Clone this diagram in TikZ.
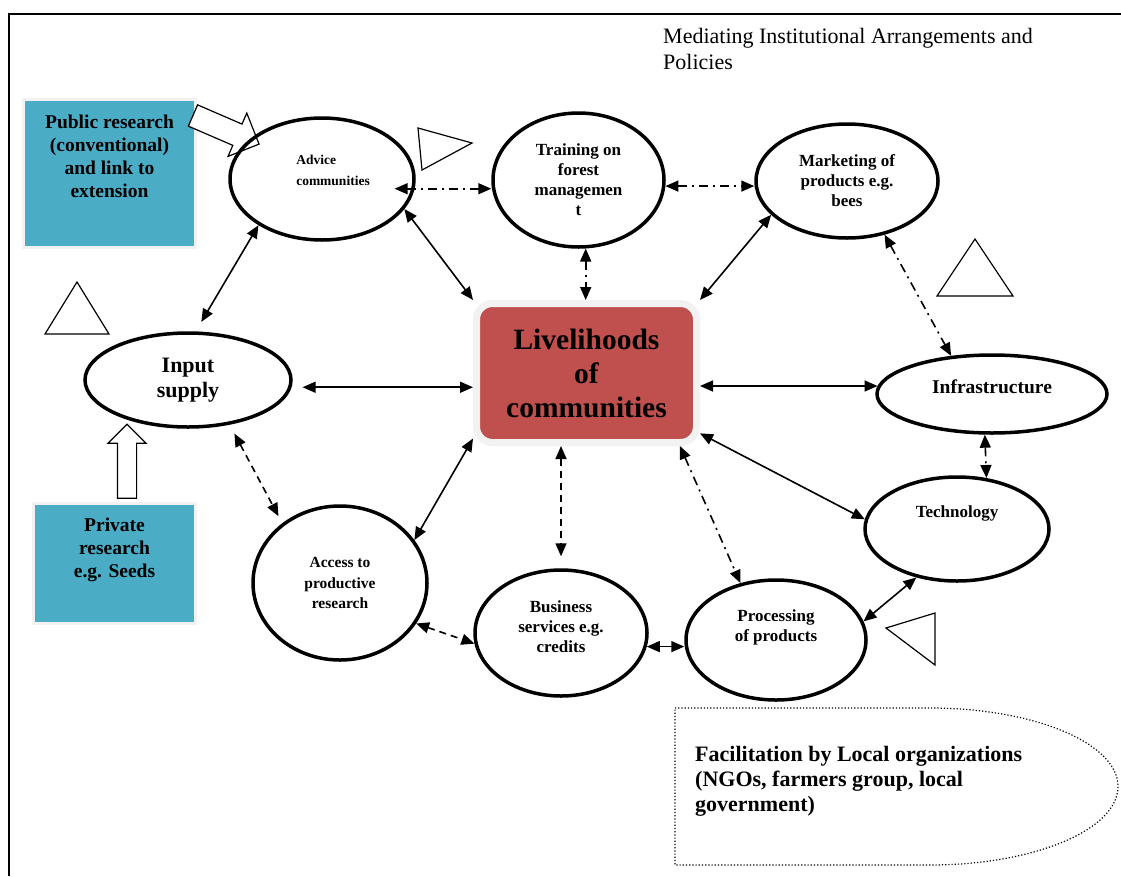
\documentclass[tikz,border=0pt]{standalone}
\usepackage{fontspec}
\setmainfont{Liberation Serif}
\usetikzlibrary{arrows.meta,
                shapes.geometric,
                shapes.arrows,
                calc,
                backgrounds}
\definecolor{liveRed}{HTML}{C0504D}
\definecolor{liveShade}{HTML}{BC9292}
\definecolor{boxBlue}{HTML}{4BACC6}
\definecolor{boxShade}{HTML}{93AEB8}
\definecolor{haloGray}{HTML}{F2F2F2}

\begin{document}
\begin{tikzpicture}[x=1pt,y=-1pt,
  ell/.style={ellipse,draw,line width=3.5pt,inner sep=0pt,align=center,
              font=\fontsize{17}{20}\selectfont\bfseries},
  lbl/.style={align=center,font=\fontsize{17}{20}\selectfont\bfseries},
  bluebox/.style={draw=haloGray,fill=boxBlue,line width=3pt,inner sep=0pt},
  boxtext/.style={align=center,inner sep=0pt,font=\fontsize{19.5}{23}\selectfont\bfseries},
  link/.style={line width=1.6pt,{Triangle[length=13pt,width=11pt]}-{Triangle[length=13pt,width=11pt]}},
  dashlink/.style={link,dash pattern=on 7pt off 5pt},
  dotlink/.style={link,dash pattern=on 9pt off 5pt on 2pt off 5pt},
  blockarrow/.style={single arrow,draw,fill=white,line width=1.2pt,inner xsep=0pt,
                     single arrow head indent=0pt},
  tri/.style={draw,line width=1.2pt}]

\fill[white,use as bounding box] (0,0) rectangle (1121,876);
\draw[line width=2pt] (9,876) -- (9,14) -- (1121,14);

% heading
\node[anchor=north west,align=left,inner sep=0pt,font=\fontsize{22}{26}\selectfont]
  (title) at (663,28) {Mediating Institutional Arrangements and\\Policies};

% research boxes
\node[bluebox,minimum width=172pt,minimum height=148pt] (public) at (109.5,173.5) {};
\node[boxtext,anchor=north] (publictext) at ([yshift=-17pt]public.north)
  {Public research\\(conventional)\\and link to\\extension};
\node[bluebox,minimum width=162pt,minimum height=120pt] (private) at (114.5,563.5) {};
\node[boxtext,anchor=north] (privatetext) at ([yshift=-16pt]private.north)
  {Private\\research\\e.g. Seeds};
\begin{scope}[on background layer]
  \fill[boxShade] ($(public.north west)+(5,8)$) rectangle ($(public.south east)+(2,6)$);
  \fill[boxShade] ($(private.north west)+(5,8)$) rectangle ($(private.south east)+(2,5)$);
\end{scope}

% block arrows
\node[blockarrow,minimum height=72pt,inner ysep=11pt,single arrow head extend=12pt,
      rotate=-23.4] (pubarrow) at (220.7,127.5) {};
\node[blockarrow,minimum height=74pt,inner ysep=9pt,single arrow head extend=9.5pt,
      rotate=90] (privarrow) at (127,466) {};

% centre
\node[draw=haloGray,fill=liveRed,line width=7pt,rounded corners=16pt,
      minimum width=220pt,minimum height=139pt,align=center,
      font=\fontsize{29.5}{34}\selectfont\bfseries] (live) at (586.5,373)
  {Livelihoods\\of\\communities};
\begin{scope}[on background layer]
  \fill[liveShade,rounded corners=18pt] ($(live.north west)+(10,12)$)
    rectangle ($(live.south east)+(3,7)$);
\end{scope}

% ellipses
\node[ell,minimum width=184pt,minimum height=122pt,
      label={[lbl,align=left,font=\fontsize{13.5}{21}\selectfont\bfseries,xshift=11pt,yshift=9pt]center:Advice\\communities}]
  (advice) at (322,179) {};
\node[ell,minimum width=171pt,minimum height=134pt] (training) at (578.5,180)
  {Training on\\forest\\managemen\\t};
\node[ell,minimum width=182pt,minimum height=114pt] (marketing) at (847,181)
  {Marketing of\\products e.g.\\bees};
\node[ell,minimum width=206pt,minimum height=94pt,font=\fontsize{22}{25}\selectfont\bfseries]
  (input) at (188,380) {Input\\supply};
\node[ell,minimum width=230pt,minimum height=78pt,
      label={[lbl,font=\fontsize{19.5}{23}\selectfont\bfseries,yshift=7pt]center:Infrastructure}]
  (infra) at (992,394) {};
\node[ell,minimum width=184pt,minimum height=104pt,
      label={[lbl,yshift=16pt]center:Technology}] (tech) at (957,529) {};
\node[ell,minimum width=174pt,minimum height=154pt,font=\fontsize{15.5}{20.5}\selectfont\bfseries]
  (access) at (340,583) {Access to\\productive\\research};
\node[ell,minimum width=172pt,minimum height=126pt,
      label={[lbl,yshift=6pt]center:Business\\services e.g.\\credits}] (business) at (561,633) {};
\node[ell,minimum width=180pt,minimum height=120pt,
      label={[lbl,yshift=13pt]center:Processing\\of products}] (processing) at (776,640) {};

% triangles
\draw[tri] (45,334) -- (77,282) -- (109,334) -- cycle;
\draw[tri] (418,128) -- (472,143) -- (422,170) -- cycle;
\draw[tri] (937,296) -- (975,239) -- (1013,296) -- cycle;
\draw[tri] (935,613) -- (886,628) -- (935,665) -- cycle;

% links
\draw[dotlink,shorten <=-20pt] (advice.-6) -- (training.west |- advice.-6);
\draw[dotlink] (training.-4) -- (marketing.west |- training.-4);
\draw[link] (advice.-20) -- (live.north west);
\draw[dotlink] (training.-84) -- (training.-84 |- live.north);
\draw[link] (marketing.204) -- (live.north east);
\draw[dotlink] (marketing.-55) -- (infra.137);
\draw[link,shorten <=11pt] (input.-4) -- (input.-4 -| live.west);
\draw[link] (live.east |- infra.176) -- (infra.176);
\draw[dotlink] (infra.-100) -- (tech.60);
\draw[link] (live.-28) -- (tech.174);
\draw[dotlink] (live.-38) -- (processing.122);
\draw[dashlink,shorten >=12pt] (live.south -| business.north) -- (business.north);
\draw[link] (live.210) -- (access.30);
\draw[dashlink,shorten <=10pt,shorten >=8pt] (input.-47) -- (access.134);
\draw[dashlink] (access.-28) -- (business.187);
\draw[link] (business.-9) -- (business.-9 -| processing.west);
\draw[link] (processing.12) -- (tech.230);
\draw[link,shorten <=11pt] (input.81) -- (advice.216);

% local facilitation
\draw[line width=1.2pt,dash pattern=on 1.2pt off 2pt]
  (675,708) -- (930,708) arc[start angle=90,end angle=-90,x radius=188pt,y radius=78.5pt]
  -- (675,865) -- cycle;
\node[anchor=north west,align=left,inner sep=0pt,font=\fontsize{22}{25}\selectfont\bfseries]
  (facil) at (695,746)
  {Facilitation by Local organizations\\(NGOs, farmers group, local\\government)};
\end{tikzpicture}
\end{document}
